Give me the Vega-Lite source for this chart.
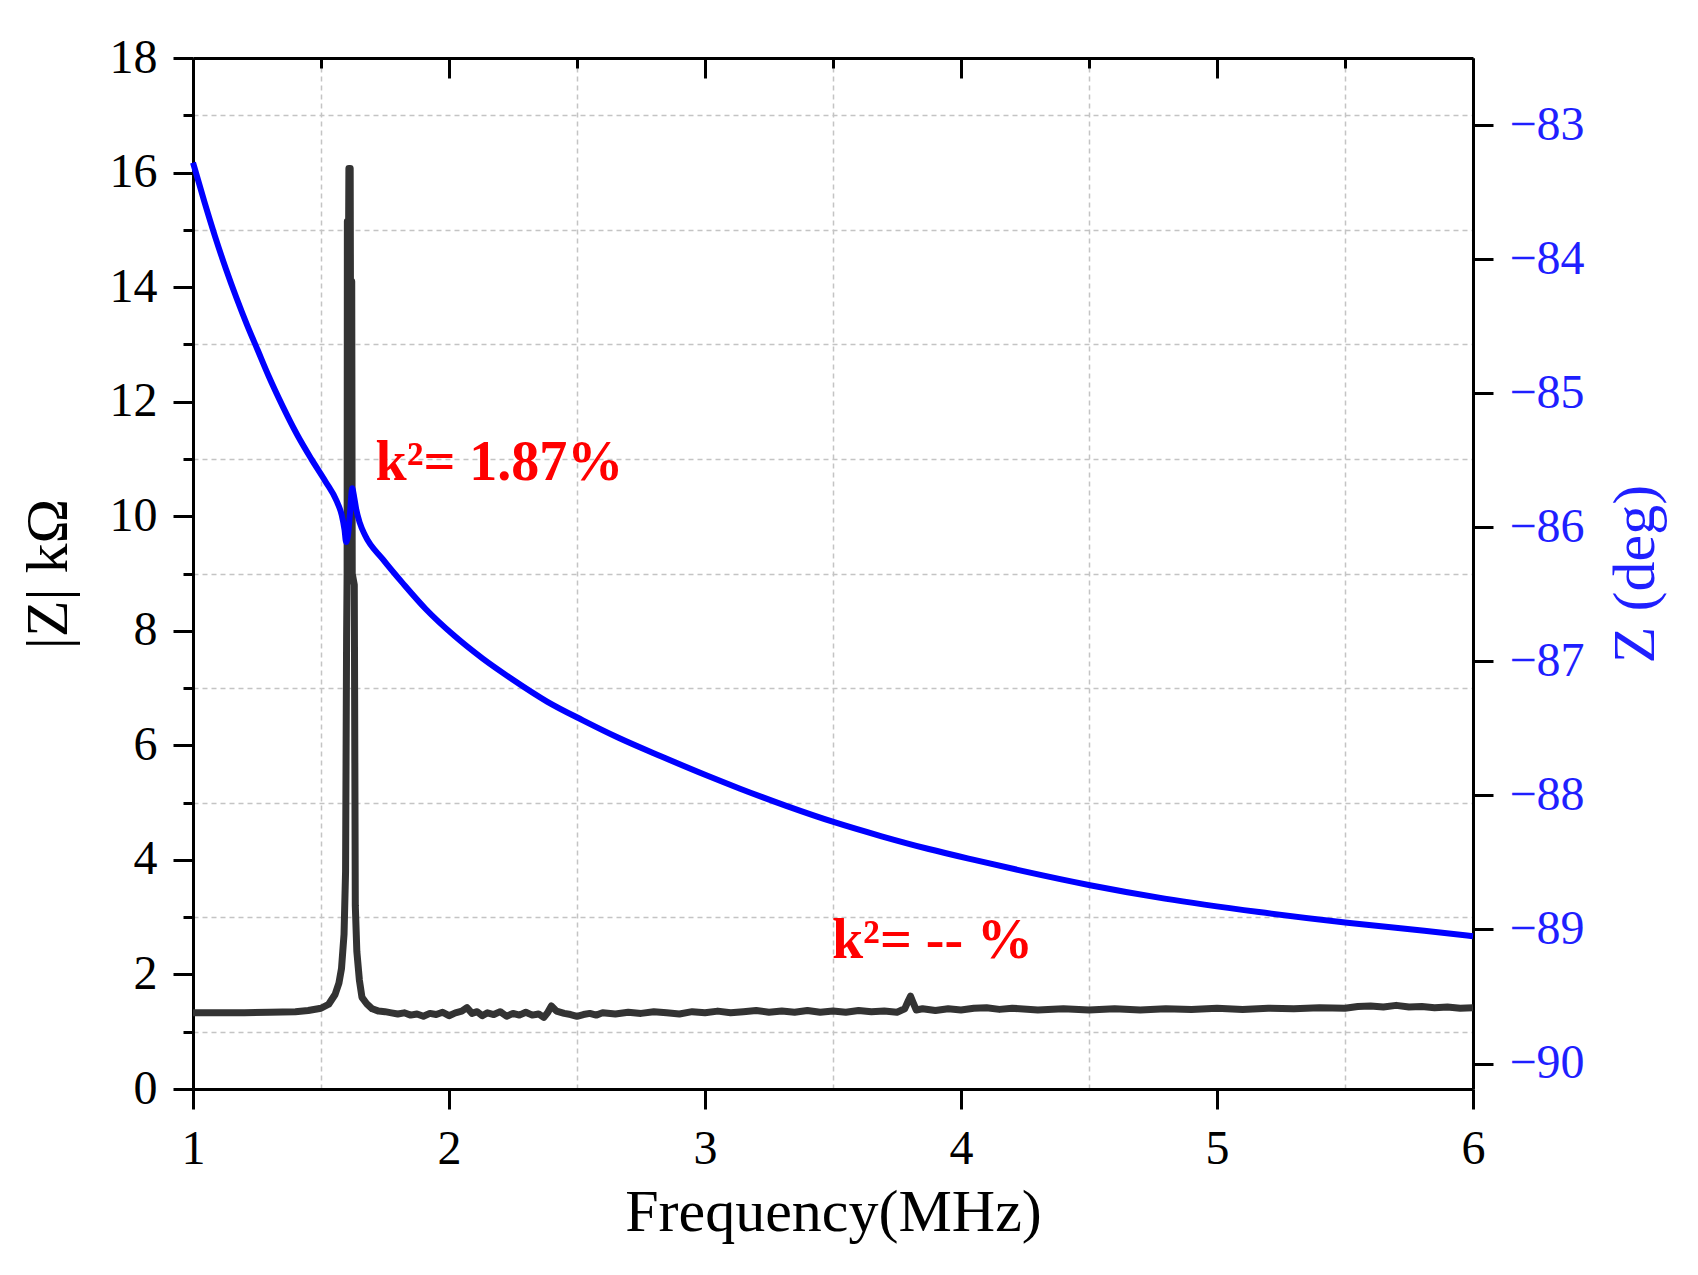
{
  "$schema": "https://vega.github.io/schema/vega-lite/v6.json",
  "description": "Impedance magnitude and phase versus frequency",
  "width": 1280,
  "height": 1031,
  "autosize": "none",
  "padding": {"left": 193, "top": 58, "right": 225, "bottom": 186},
  "background": "white",
  "config": {
    "view": {"stroke": null},
    "font": "Liberation Serif",
    "axis": {
      "labelFont": "Liberation Serif",
      "titleFont": "Liberation Serif",
      "labelFontSize": 48,
      "titleFontSize": 60,
      "titleFontWeight": "normal",
      "labelColor": "black",
      "titleColor": "black",
      "domainColor": "black",
      "domainWidth": 3,
      "tickColor": "black",
      "tickWidth": 3,
      "labelPadding": 16,
      "labelOverlap": false,
      "labelFlush": false,
      "gridColor": "#c4c4c4",
      "gridDash": [5, 4],
      "gridWidth": 1.5
    }
  },
  "datasets": {
    "mag": [
      {"f": 1.0, "v": 1.33}, {"f": 1.1, "v": 1.33}, {"f": 1.2, "v": 1.33}, {"f": 1.3, "v": 1.34},
      {"f": 1.4, "v": 1.35}, {"f": 1.45, "v": 1.37}, {"f": 1.5, "v": 1.41}, {"f": 1.53, "v": 1.48},
      {"f": 1.555, "v": 1.65}, {"f": 1.57, "v": 1.85}, {"f": 1.58, "v": 2.1}, {"f": 1.59, "v": 2.7},
      {"f": 1.596, "v": 3.8}, {"f": 1.6, "v": 7.9}, {"f": 1.602, "v": 9.0}, {"f": 1.603, "v": 15.15},
      {"f": 1.608, "v": 15.15}, {"f": 1.609, "v": 16.07}, {"f": 1.614, "v": 16.07}, {"f": 1.615, "v": 14.1},
      {"f": 1.62, "v": 14.1}, {"f": 1.622, "v": 9.0}, {"f": 1.63, "v": 8.8}, {"f": 1.634, "v": 3.2},
      {"f": 1.64, "v": 2.4}, {"f": 1.65, "v": 1.9}, {"f": 1.66, "v": 1.6}, {"f": 1.68, "v": 1.48},
      {"f": 1.7, "v": 1.4}, {"f": 1.725, "v": 1.36}, {"f": 1.75, "v": 1.35}, {"f": 1.775, "v": 1.33},
      {"f": 1.8, "v": 1.31}, {"f": 1.825, "v": 1.33}, {"f": 1.85, "v": 1.29}, {"f": 1.875, "v": 1.31},
      {"f": 1.9, "v": 1.27}, {"f": 1.925, "v": 1.32}, {"f": 1.95, "v": 1.3}, {"f": 1.975, "v": 1.34},
      {"f": 2.0, "v": 1.28}, {"f": 2.025, "v": 1.33}, {"f": 2.05, "v": 1.36}, {"f": 2.07, "v": 1.42},
      {"f": 2.09, "v": 1.32}, {"f": 2.11, "v": 1.35}, {"f": 2.13, "v": 1.28}, {"f": 2.15, "v": 1.33},
      {"f": 2.175, "v": 1.3}, {"f": 2.2, "v": 1.35}, {"f": 2.225, "v": 1.27}, {"f": 2.25, "v": 1.32},
      {"f": 2.275, "v": 1.29}, {"f": 2.3, "v": 1.34}, {"f": 2.325, "v": 1.29}, {"f": 2.35, "v": 1.31},
      {"f": 2.37, "v": 1.25}, {"f": 2.385, "v": 1.33}, {"f": 2.4, "v": 1.45}, {"f": 2.42, "v": 1.36},
      {"f": 2.45, "v": 1.32}, {"f": 2.475, "v": 1.3}, {"f": 2.5, "v": 1.27}, {"f": 2.525, "v": 1.3},
      {"f": 2.55, "v": 1.32}, {"f": 2.575, "v": 1.29}, {"f": 2.6, "v": 1.33}, {"f": 2.65, "v": 1.31},
      {"f": 2.7, "v": 1.34}, {"f": 2.75, "v": 1.32}, {"f": 2.8, "v": 1.35}, {"f": 2.85, "v": 1.33},
      {"f": 2.9, "v": 1.31}, {"f": 2.95, "v": 1.35}, {"f": 3.0, "v": 1.33}, {"f": 3.05, "v": 1.36},
      {"f": 3.1, "v": 1.33}, {"f": 3.15, "v": 1.35}, {"f": 3.2, "v": 1.37}, {"f": 3.25, "v": 1.34},
      {"f": 3.3, "v": 1.36}, {"f": 3.35, "v": 1.34}, {"f": 3.4, "v": 1.37}, {"f": 3.45, "v": 1.34},
      {"f": 3.5, "v": 1.36}, {"f": 3.55, "v": 1.34}, {"f": 3.6, "v": 1.37}, {"f": 3.65, "v": 1.35},
      {"f": 3.7, "v": 1.36}, {"f": 3.75, "v": 1.34}, {"f": 3.78, "v": 1.4}, {"f": 3.795, "v": 1.55},
      {"f": 3.803, "v": 1.62}, {"f": 3.812, "v": 1.52}, {"f": 3.825, "v": 1.38}, {"f": 3.85, "v": 1.4},
      {"f": 3.9, "v": 1.37}, {"f": 3.95, "v": 1.4}, {"f": 4.0, "v": 1.38}, {"f": 4.05, "v": 1.41},
      {"f": 4.1, "v": 1.42}, {"f": 4.15, "v": 1.39}, {"f": 4.2, "v": 1.41}, {"f": 4.3, "v": 1.38},
      {"f": 4.4, "v": 1.4}, {"f": 4.5, "v": 1.38}, {"f": 4.6, "v": 1.4}, {"f": 4.7, "v": 1.38},
      {"f": 4.8, "v": 1.4}, {"f": 4.9, "v": 1.39}, {"f": 5.0, "v": 1.41}, {"f": 5.1, "v": 1.39},
      {"f": 5.2, "v": 1.41}, {"f": 5.3, "v": 1.4}, {"f": 5.4, "v": 1.42}, {"f": 5.5, "v": 1.41},
      {"f": 5.55, "v": 1.44}, {"f": 5.6, "v": 1.45}, {"f": 5.65, "v": 1.43}, {"f": 5.7, "v": 1.46},
      {"f": 5.75, "v": 1.43}, {"f": 5.8, "v": 1.44}, {"f": 5.85, "v": 1.42}, {"f": 5.9, "v": 1.43},
      {"f": 5.95, "v": 1.41}, {"f": 6.0, "v": 1.42}
    ],
    "phase": [
      {"f": 1.0, "p": -83.28}, {"f": 1.044, "p": -83.57}, {"f": 1.086, "p": -83.83}, {"f": 1.128, "p": -84.07},
      {"f": 1.17, "p": -84.29}, {"f": 1.211, "p": -84.49}, {"f": 1.253, "p": -84.68}, {"f": 1.295, "p": -84.87},
      {"f": 1.351, "p": -85.1}, {"f": 1.407, "p": -85.31}, {"f": 1.462, "p": -85.49}, {"f": 1.518, "p": -85.66},
      {"f": 1.56, "p": -85.8}, {"f": 1.581, "p": -85.91}, {"f": 1.592, "p": -86.02}, {"f": 1.598, "p": -86.11},
      {"f": 1.606, "p": -86.05}, {"f": 1.613, "p": -85.9}, {"f": 1.622, "p": -85.71}, {"f": 1.63, "p": -85.78},
      {"f": 1.637, "p": -85.86}, {"f": 1.652, "p": -85.97}, {"f": 1.672, "p": -86.06}, {"f": 1.742, "p": -86.24},
      {"f": 1.825, "p": -86.43}, {"f": 1.909, "p": -86.61}, {"f": 2.021, "p": -86.81}, {"f": 2.132, "p": -86.98},
      {"f": 2.244, "p": -87.13}, {"f": 2.383, "p": -87.3}, {"f": 2.523, "p": -87.44}, {"f": 2.662, "p": -87.57},
      {"f": 2.83, "p": -87.71}, {"f": 3.005, "p": -87.85}, {"f": 3.137, "p": -87.95}, {"f": 3.32, "p": -88.08},
      {"f": 3.505, "p": -88.2}, {"f": 3.69, "p": -88.305}, {"f": 3.874, "p": -88.4}, {"f": 4.06, "p": -88.485},
      {"f": 4.243, "p": -88.565}, {"f": 4.504, "p": -88.67}, {"f": 4.796, "p": -88.77}, {"f": 5.164, "p": -88.87},
      {"f": 5.509, "p": -88.95}, {"f": 5.81, "p": -89.01}, {"f": 6.0, "p": -89.05}
    ],
    "notes": [
      {"f": 1.713, "v": 10.63, "label": "k²= 1.87%"},
      {"f": 3.496, "v": 2.28, "label": "k²= -- %"}
    ]
  },
  "resolve": {"scale": {"y": "independent"}, "axis": {"x": "independent"}},
  "layer": [
    {
      "encoding": {
        "x": {
          "field": "f",
          "type": "quantitative",
          "scale": {"domain": [1, 6], "nice": false},
          "axis": {
            "orient": "bottom",
            "title": "Frequency(MHz)",
            "titlePadding": 10,
            "format": "d",
            "values": [1, 1.5, 2, 2.5, 3, 3.5, 4, 4.5, 5, 5.5, 6],
            "labelExpr": "datum.value % 1 === 0 ? datum.label : ''",
            "tickSize": {"condition": {"test": "datum.value % 1 === 0", "value": 20}, "value": 10},
            "grid": true,
            "gridOpacity": {"condition": {"test": "datum.value % 1 !== 0", "value": 1}, "value": 0}
          }
        },
        "y": {
          "field": "v",
          "type": "quantitative",
          "scale": {"domain": [0, 18], "nice": false},
          "axis": {
            "orient": "left",
            "title": "|Z| kΩ",
            "titlePadding": 30,
            "format": "d",
            "values": [0, 1, 2, 3, 4, 5, 6, 7, 8, 9, 10, 11, 12, 13, 14, 15, 16, 17, 18],
            "labelExpr": "datum.value % 2 === 0 ? datum.label : ''",
            "tickSize": {"condition": {"test": "datum.value % 2 === 0", "value": 20}, "value": 10},
            "grid": true,
            "gridOpacity": {"condition": {"test": "datum.value % 2 === 1", "value": 1}, "value": 0}
          }
        }
      },
      "layer": [
        {
          "data": {"name": "mag"},
          "mark": {"type": "line", "color": "#333333", "strokeWidth": 7, "strokeJoin": "round"}
        },
        {
          "data": {"name": "notes"},
          "mark": {"type": "text", "align": "left", "baseline": "alphabetic", "font": "Liberation Serif", "fontSize": 56, "fontWeight": "bold", "color": "#ff0000"},
          "encoding": {"text": {"field": "label"}}
        }
      ]
    },
    {
      "data": {"name": "phase"},
      "mark": {"type": "line", "color": "#0000ff", "strokeWidth": 6, "strokeJoin": "round", "interpolate": "monotone"},
      "encoding": {
        "x": {
          "field": "f",
          "type": "quantitative",
          "axis": {
            "orient": "top",
            "title": null,
            "labels": false,
            "values": [1, 1.5, 2, 2.5, 3, 3.5, 4, 4.5, 5, 5.5, 6],
            "tickSize": {"condition": {"test": "datum.value % 1 === 0", "value": -20}, "value": -10},
            "grid": true,
            "gridOpacity": {"condition": {"test": "datum.value % 1 !== 0", "value": 1}, "value": 0}
          }
        },
        "y": {
          "field": "p",
          "type": "quantitative",
          "scale": {"domain": [-90.19, -82.5], "nice": false, "zero": false},
          "axis": {
            "orient": "right",
            "title": "Z (deg)",
            "titleAngle": -90,
            "titleBaseline": "top",
            "titlePadding": 22,
            "titleColor": "#1f1fff",
            "labelColor": "#1f1fff",
            "format": "d",
            "grid": false,
            "values": [-90, -89.5, -89, -88.5, -88, -87.5, -87, -86.5, -86, -85.5, -85, -84.5, -84, -83.5, -83],
            "labelExpr": "datum.value % 1 === 0 ? datum.label : ''",
            "tickSize": {"condition": {"test": "datum.value % 1 === 0", "value": 20}, "value": 10}
          }
        }
      }
    }
  ]
}
